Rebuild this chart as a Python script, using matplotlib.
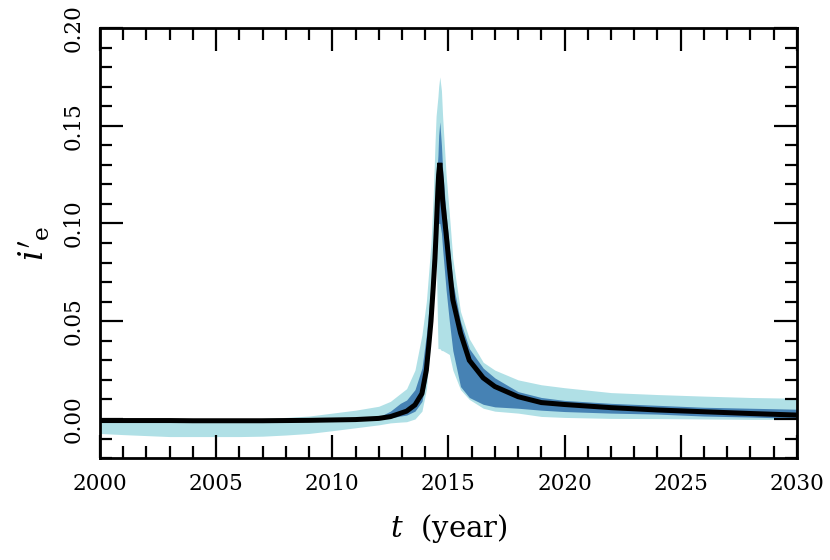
import numpy as np
import matplotlib
matplotlib.use("Agg")
import matplotlib.pyplot as plt
from matplotlib.ticker import MultipleLocator, FormatStrFormatter

# time grid (year), finer around the 2014 peak
t = [2000, 2001, 2002, 2003, 2004, 2005, 2006, 2007, 2008, 2009, 2010, 2011, 2012,
     2012.5, 2012.93, 2013.2, 2013.56, 2013.86, 2014.05, 2014.15, 2014.25, 2014.35, 2014.42, 2014.47,
     2014.55, 2014.58, 2014.63, 2014.7, 2014.75, 2014.9, 2015.04, 2015.19, 2015.52, 2015.9,
     2016.5, 2017, 2018, 2019, 2020, 2022, 2024, 2026, 2028, 2030]

# median
med = [-0.0008, -0.0008, -0.0008, -0.0008, -0.0009, -0.0009, -0.0009, -0.0009, -0.0008, -0.0007, -0.0005, -0.0003, 0.0003,
       0.0012, 0.0029, 0.004, 0.0072, 0.013, 0.025, 0.037, 0.05, 0.068, 0.082, 0.095,
       0.118, 0.125, 0.131, 0.122, 0.112, 0.095, 0.078, 0.061, 0.044, 0.030,
       0.021, 0.0166, 0.0114, 0.0084, 0.0074, 0.0058, 0.0046, 0.0037, 0.0028, 0.002]

# 50% band
lo50 = [-0.0011, -0.0011, -0.0011, -0.0011, -0.0012, -0.0012, -0.0012, -0.0012, -0.0011, -0.001, -0.0008, -0.0006, 0.0,
        0.0005, 0.0015, 0.002, 0.004, 0.009, 0.02, 0.032, 0.045, 0.062, 0.076, 0.09,
        0.105, 0.10, 0.10, 0.095, 0.087, 0.066, 0.05, 0.035, 0.0166, 0.011,
        0.0075, 0.0062, 0.0055, 0.0045, 0.0038, 0.003, 0.0025, 0.0015, 0.001, 0.0003]
hi50 = [-0.0004, -0.0004, -0.0004, -0.0004, -0.0005, -0.0005, -0.0005, -0.0005, -0.0004, -0.0003, -0.0001, 0.0002, 0.001,
        0.004, 0.008, 0.0097, 0.015, 0.026, 0.043, 0.055, 0.068, 0.09, 0.108, 0.12,
        0.135, 0.145, 0.152, 0.14, 0.128, 0.105, 0.088, 0.07, 0.05, 0.036,
        0.026, 0.021, 0.014, 0.011, 0.0095, 0.008, 0.007, 0.006, 0.0055, 0.005]

# 95% band
lo95 = [-0.0074, -0.008, -0.0085, -0.009, -0.009, -0.009, -0.009, -0.0088, -0.0082, -0.0074, -0.006, -0.0045, -0.003,
        -0.002, -0.0016, -0.0014, 0.0, 0.004, 0.015, 0.028, 0.042, 0.06, 0.074, 0.088,
        0.036, 0.036, 0.036, 0.035, 0.035, 0.034, 0.033, 0.025, 0.015, 0.010,
        0.0055, 0.004, 0.003, 0.0013, 0.0008, 0.0003, 0.0002, 0.0, -0.0002, -0.0002]
hi95 = [0.0003, 0.0002, 0.0, 0.0, 0.0, 0.0, 0.0, 0.0003, 0.0008, 0.0015, 0.003, 0.0045, 0.0065,
        0.009, 0.013, 0.0155, 0.025, 0.043, 0.06, 0.075, 0.09, 0.115, 0.14, 0.155,
        0.165, 0.17, 0.175, 0.168, 0.155, 0.125, 0.105, 0.082, 0.055, 0.041,
        0.029, 0.025, 0.020, 0.0175, 0.016, 0.0135, 0.0125, 0.0117, 0.011, 0.0106]

plt.rcParams['font.family'] = ['DejaVu Serif']
plt.rcParams['mathtext.fontset'] = 'dejavuserif'

fig = plt.figure(figsize=(8.3, 5.6), dpi=100)
ax = fig.add_axes([0.1205, 0.182, 0.8395, 0.768])

ax.fill_between(t, lo95, hi95, color='#b0e0e6', lw=0)
ax.fill_between(t, lo50, hi50, color='#4682b4', lw=0)
ax.plot(t, med, color='black', lw=3.6, solid_joinstyle='miter')

ax.set_xlim(2000, 2030)
ax.set_ylim(-0.02, 0.20)
ax.xaxis.set_major_locator(MultipleLocator(5))
ax.xaxis.set_minor_locator(MultipleLocator(1))
ax.yaxis.set_major_locator(MultipleLocator(0.05))
ax.yaxis.set_minor_locator(MultipleLocator(0.01))
ax.yaxis.set_major_formatter(FormatStrFormatter('%.2f'))

for s in ax.spines.values():
    s.set_linewidth(2)
ax.tick_params(which='both', direction='in', top=True, right=True, width=1.6, labelsize=15.5)
ax.tick_params(which='major', length=16.5, pad=11)
ax.tick_params(which='minor', length=8.5)
for lab in ax.get_yticklabels():
    lab.set_rotation(90)
    lab.set_va('center')

ax.set_xlabel(r"$t$  (year)", fontsize=21, labelpad=12)
ax.set_ylabel(r"$i'_{\mathrm{e}}$", fontsize=24, labelpad=8)

fig.savefig('out.png', dpi=100)
